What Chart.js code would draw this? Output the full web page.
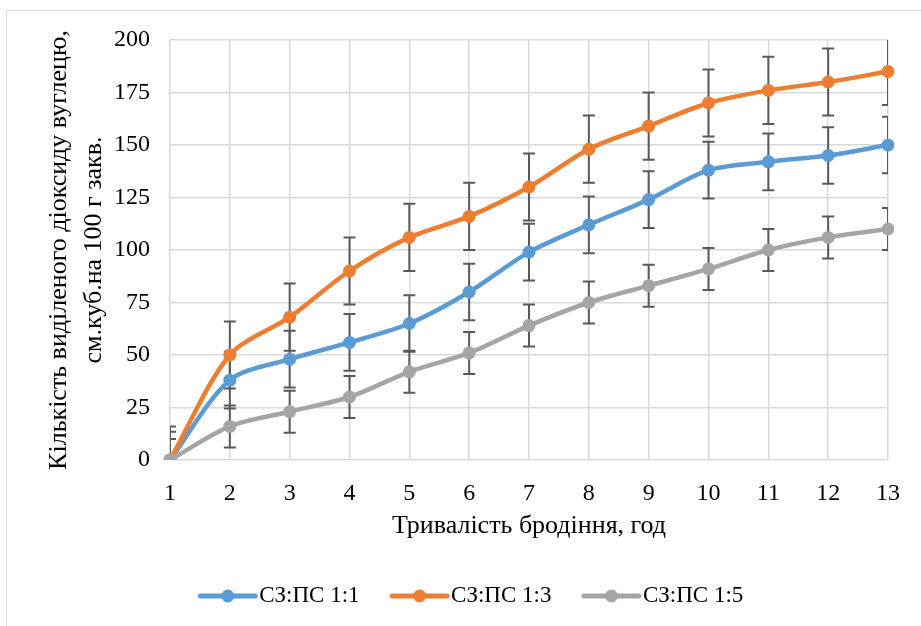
<!DOCTYPE html>
<html>
<head>
<meta charset="utf-8">
<script src="https://cdn.jsdelivr.net/npm/chart.js@4"></script>
<style>
  html, body { margin: 0; padding: 0; background: #fff; }
  #wrap { position: relative; width: 921px; height: 626px; overflow: hidden; }
  #frame { position: absolute; left: 6px; top: 10px; width: 1000px; height: 1000px; border: 1px solid #d9d9d9; }
  #chart { position: absolute; left: 0; top: 0; }
</style>
</head>
<body>
<div id="wrap">
  <div id="frame"></div>
  <canvas id="chart" width="921" height="626"></canvas>
</div>
<script>
const hours = ['1', '2', '3', '4', '5', '6', '7', '8', '9', '10', '11', '12', '13'];
const yTicks = [0, 25, 50, 75, 100, 125, 150, 175, 200];

const seriesNames = ['СЗ:ПС 1:1', 'СЗ:ПС 1:3', 'СЗ:ПС 1:5'];
const ratio11 = [0, 38, 48, 56, 65, 80, 99, 112, 124, 138, 142, 145, 150];
const ratio13 = [0, 50, 68, 90, 106, 116, 130, 148, 159, 170, 176, 180, 185];
const ratio15 = [0, 16, 23, 30, 42, 51, 64, 75, 83, 91, 100, 106, 110];

// error bar half-ranges
const err11 = [13.5, 13.5, 13.5, 13.5, 13.5, 13.5, 13.5, 13.5, 13.5, 13.5, 13.5, 13.5, 13.5];
const err13 = [16, 16, 16, 16, 16, 16, 16, 16, 16, 16, 16, 16, 16];
const err15 = [10, 10, 10, 10, 10, 10, 10, 10, 10, 10, 10, 10, 10];

const colors = ['#5B9BD5', '#ED7D31', '#A5A5A5'];
const serif = 'Liberation Serif, "Times New Roman", serif';

// legend marker: line with a dot; empty left part gives the gap between items
const legendIcon = (color) => {
    const c = document.createElement('canvas');
    c.width = 92; c.height = 16;
    const g = c.getContext('2d');
    g.strokeStyle = color;
    g.lineWidth = 5;
    g.lineCap = 'round';
    g.beginPath(); g.moveTo(33.5, 8); g.lineTo(88.5, 8); g.stroke();
    g.fillStyle = color;
    g.beginPath(); g.arc(61, 8, 6.5, 0, Math.PI * 2); g.fill();
    return c;
};

const errorBars = {
    id: 'errorBars',
    beforeDatasetsDraw(chart) {
        const { ctx, chartArea, scales: { x, y } } = chart;
        ctx.save();
        ctx.beginPath();
        ctx.rect(chartArea.left, chartArea.top, chartArea.right - chartArea.left, chartArea.bottom - chartArea.top);
        ctx.clip();
        ctx.strokeStyle = '#595959';
        ctx.lineWidth = 2;
        chart.data.datasets.forEach(ds => {
            ds.data.forEach((v, i) => {
                const px = x.getPixelForValue(i);
                const top = y.getPixelForValue(v + ds.errors[i]);
                const bot = y.getPixelForValue(v - ds.errors[i]);
                ctx.beginPath();
                ctx.moveTo(px, top); ctx.lineTo(px, bot);
                ctx.moveTo(px - 6, top); ctx.lineTo(px + 6, top);
                ctx.moveTo(px - 6, bot); ctx.lineTo(px + 6, bot);
                ctx.stroke();
            });
        });
        ctx.restore();
    }
};

const makeSet = (label, data, errors, color, order) => ({
    label, data, errors, order,
    borderColor: color,
    backgroundColor: color,
    borderWidth: 4.5,
    tension: 0.3,
    pointRadius: 6.5,
    pointBorderWidth: 0,
    pointBackgroundColor: color,
    pointStyle: 'circle',
    legendIcon: legendIcon(color)
});

new Chart(document.getElementById('chart'), {
    type: 'line',
    data: {
        labels: hours,
        datasets: [
            makeSet(seriesNames[0], ratio11, err11, colors[0], 3),
            makeSet(seriesNames[1], ratio13, err13, colors[1], 2),
            makeSet(seriesNames[2], ratio15, err15, colors[2], 1)
        ]
    },
    options: {
        responsive: false,
        animation: false,
        layout: { padding: { top: 40, right: 33, bottom: 8.5, left: 33 } },
        plugins: {
            tooltip: { enabled: false },
            legend: {
                position: 'bottom',
                labels: {
                    color: '#000',
                    font: { family: serif, size: 23 },
                    padding: 10,
                    usePointStyle: true,
                    pointStyleWidth: 70,
                    sort: (a, b) => a.datasetIndex - b.datasetIndex,
                    generateLabels: (chart) => chart.data.datasets.map((ds, i) => ({
                        text: ds.label,
                        datasetIndex: i,
                        pointStyle: ds.legendIcon,
                        fillStyle: ds.borderColor,
                        strokeStyle: ds.borderColor,
                        lineWidth: 0,
                        fontColor: '#000',
                        hidden: false
                    }))
                }
            }
        },
        scales: {
            x: {
                type: 'category',
                offset: false,
                grid: { color: '#d9d9d9', lineWidth: 1.5, drawTicks: false },
                border: { display: false },
                ticks: { color: '#000', font: { family: serif, size: 24 }, padding: 19.5, maxRotation: 0 },
                title: {
                    display: true,
                    text: 'Тривалість бродіння, год',
                    color: '#000',
                    font: { family: serif, size: 26, lineHeight: 1.33 },
                    padding: { top: 0, bottom: 31 }
                },
                afterFit: (s) => { s.height = 114.5; }
            },
            y: {
                min: 0,
                max: 200,
                afterBuildTicks: (s) => { s.ticks = yTicks.map(v => ({ value: v })); },
                grid: { color: '#d9d9d9', lineWidth: 1.5, drawTicks: false },
                border: { display: false },
                ticks: { color: '#000', font: { family: serif, size: 24 }, padding: 20 },
                title: {
                    display: true,
                    text: ['Кількість виділеного діоксиду вуглецю,', 'см.куб.на 100 г закв.'],
                    color: '#000',
                    font: { family: serif, size: 26, lineHeight: 1.33 },
                    padding: { top: 9, bottom: 0 }
                },
                afterFit: (s) => { s.width = 137; }
            }
        }
    },
    plugins: [errorBars]
});
</script>
</body>
</html>
